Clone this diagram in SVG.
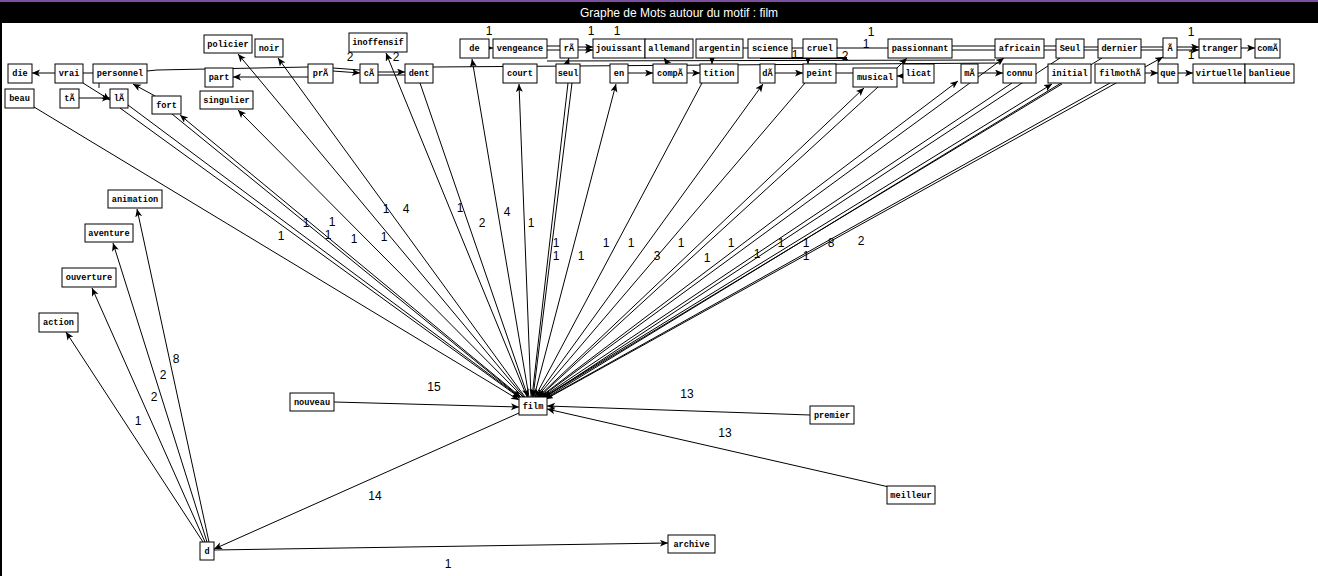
<svg xmlns="http://www.w3.org/2000/svg" width="1318" height="576" viewBox="0 0 1318 576">
<defs>
<marker id="ar" markerUnits="userSpaceOnUse" markerWidth="9" markerHeight="8" refX="8" refY="3.5" orient="auto">
<path d="M0,0 L8,3.5 L0,7 L2,3.5 z" fill="#000"/>
</marker>
<style>
.n rect{fill:#fff;stroke:#000;stroke-width:1}
.n text{font-family:"Liberation Mono","DejaVu Sans Mono",monospace;font-weight:bold;font-size:8.6px;fill:#000;text-anchor:middle}
#edges path{fill:none;stroke:#000;stroke-width:1}
#edges path.a{marker-end:url(#ar)}
#labels text{font-family:"Liberation Sans",Arial,sans-serif;font-size:12px;fill:#000;text-anchor:middle}
</style>
</defs>
<rect x="0" y="0" width="1318" height="576" fill="#fff"/>
<rect x="0" y="0" width="1318" height="23" fill="#000"/>
<rect x="0" y="0" width="1318" height="2" fill="#7d4f9e"/>
<rect x="0" y="23" width="2" height="553" fill="#000"/>
<text x="679" y="17" font-family="Liberation Sans,Arial,sans-serif" font-size="12" fill="#fff" text-anchor="middle">Graphe de Mots autour du motif : film</text>

<g id="edges">
<path class="a" d="M34,107 L519,400"/>
<path class="a" d="M120,108 L520,398"/>
<path class="a" d="M128,105 L521,398"/>
<path class="a" d="M172,114 L521,398"/>
<path class="a" d="M420,83 L528,397"/>
<path class="a" d="M568,83 L532,397"/>
<path class="a" d="M572,83 L533,397"/>
<path class="a" d="M702,83 L535,397"/>
<path class="a" d="M805,83 L537,397"/>
<path class="a" d="M878,87 L539,397"/>
<path class="a" d="M1012,83 L541,398"/>
<path class="a" d="M1062,84 L543,398"/>
<path class="a" d="M1060,58 L544,398"/>
<path class="a" d="M1102,58 L544,399"/>
<path class="a" d="M1110,83 L545,399"/>
<path class="a" d="M522,398 L180,115"/>
<path class="a" d="M523,397 L238,110"/>
<path class="a" d="M524,397 L238,54"/>
<path class="a" d="M525,397 L278,58"/>
<path class="a" d="M527,397 L386,53"/>
<path class="a" d="M529,397 L472,59"/>
<path class="a" d="M531,397 L519,84"/>
<path class="a" d="M534,397 L616,84"/>
<path class="a" d="M536,397 L763,84"/>
<path class="a" d="M538,397 L864,88"/>
<path class="a" d="M540,397 L958,81"/>
<path class="a" d="M541,397 L1004,58"/>
<path class="a" d="M542,398 L1052,84"/>
<path class="a" d="M546,399 L1163,57"/>
<path class="a" d="M334,402 L519,407"/>
<path class="a" d="M810,415 L547,406"/>
<path class="a" d="M889,487 L547,409"/>
<path class="a" d="M519,413 L214,549"/>
<path class="a" d="M214,550 L668,543"/>
<path class="a" d="M203,542 L66,332"/>
<path class="a" d="M205,542 L92,288"/>
<path class="a" d="M207,542 L113,243"/>
<path class="a" d="M209,542 L137,209"/>
<path class="a" d="M55,73 L32,73"/>
<path d="M83,73 L93,73"/>
<path class="a" d="M83,83 L110,100"/>
<path class="a" d="M79,98 L110,98"/>
<path class="a" d="M155,96 L133,84"/>
<path d="M99,83 L99,88"/>
<path d="M147,71 L157,70 L308,67"/>
<path class="a" d="M308,77 L233,77"/>
<path d="M333,68 L360,70"/>
<path class="a" d="M333,71 L360,73"/>
<path class="a" d="M378,72 L405,72"/>
<path d="M378,75 L405,75"/>
<path d="M433,67 L1000,63"/>
<path d="M547,61 L995,60"/>
<path d="M760,58 L847,58" style="stroke-width:2"/>
<path class="a" d="M486,48 L493,48"/>
<path d="M547,46 L560,46 M547,50 L560,50"/>
<path class="a" d="M578,47 L593,47"/>
<path class="a" d="M578,50 L593,50"/>
<path class="a" d="M567,64 L569,58"/>
<path class="a" d="M668,64 L664,58"/>
<path d="M743,48 L748,48"/>
<path d="M792,48 L803,48"/>
<path d="M837,48 L888,48"/>
<path d="M952,46 L995,46 M952,50 L995,50"/>
<path d="M1044,46 L1056,46 M1044,50 L1056,50"/>
<path d="M1084,47 L1098,47 M1084,50 L1098,50"/>
<path d="M1141,47 L1163,47 M1141,50 L1163,50"/>
<path class="a" d="M1177,47 L1199,47"/>
<path class="a" d="M1177,50 L1199,50"/>
<path class="a" d="M1241,48 L1255,48"/>
<path class="a" d="M712,59 L712,64"/>
<path class="a" d="M808,59 L808,64"/>
<path class="a" d="M897,68 L907,58"/>
<path class="a" d="M628,73 L653,73"/>
<path class="a" d="M687,73 L700,73"/>
<path class="a" d="M775,73 L803,73"/>
<path d="M836,73 L853,73"/>
<path class="a" d="M903,76 L897,76"/>
<path class="a" d="M978,73 L1003,73"/>
<path class="a" d="M1145,73 L1158,73"/>
<path class="a" d="M1178,73 L1193,73"/>
</g>

<g id="labels">
<text x="489" y="35">1</text><text x="591" y="35">1</text><text x="617" y="35">1</text>
<text x="871" y="36">1</text><text x="866" y="48">1</text><text x="795" y="59">1</text><text x="845" y="60">2</text>
<text x="1191" y="36">1</text><text x="1191" y="59">1</text>
<text x="350" y="61">2</text><text x="396" y="61">2</text>
<text x="281" y="240">1</text><text x="306" y="227">1</text><text x="332" y="226">1</text><text x="328" y="239">1</text>
<text x="354" y="243">1</text><text x="384" y="241">1</text><text x="386" y="213">1</text><text x="406" y="213">4</text>
<text x="460" y="212">1</text><text x="482" y="227">2</text><text x="507" y="216">4</text><text x="531" y="227">1</text>
<text x="556" y="247">1</text><text x="556" y="260">1</text><text x="581" y="260">1</text><text x="606" y="247">1</text>
<text x="631" y="247">1</text><text x="657" y="260">3</text><text x="681" y="247">1</text><text x="707" y="262">1</text>
<text x="731" y="247">1</text><text x="757" y="258">1</text><text x="781" y="247">1</text><text x="806" y="247">1</text>
<text x="831" y="247">8</text><text x="861" y="245">2</text><text x="806" y="260">1</text>
<text x="434" y="391">15</text><text x="687" y="398">13</text><text x="725" y="437">13</text><text x="375" y="500">14</text>
<text x="448" y="568">1</text><text x="138" y="425">1</text><text x="154" y="401">2</text><text x="163" y="379">2</text><text x="176" y="363">8</text>
</g>

<g id="n-policier" class="n"><rect x="204" y="35" width="48" height="18"/><text x="228" y="47">policier</text></g>
<g id="n-noir" class="n"><rect x="255" y="39" width="28" height="18"/><text x="269" y="51">noir</text></g>
<g id="n-inoffensif" class="n"><rect x="349" y="33" width="58" height="19"/><text x="378" y="45">inoffensif</text></g>
<g id="n-de" class="n"><rect x="460" y="39" width="29" height="19"/><text x="474.5" y="51">de</text></g>
<g id="n-vengeance" class="n"><rect x="493" y="39" width="54" height="19"/><text x="520" y="51">vengeance</text></g>
<g id="n-rA" class="n"><rect x="560" y="39" width="18" height="19"/><text x="569" y="51">rÃ</text></g>
<g id="n-jouissant" class="n"><rect x="593" y="39" width="52" height="19"/><text x="619" y="51">jouissant</text></g>
<g id="n-allemand" class="n"><rect x="645" y="39" width="48" height="19"/><text x="669" y="51">allemand</text></g>
<g id="n-argentin" class="n"><rect x="696" y="39" width="47" height="19"/><text x="719.5" y="51">argentin</text></g>
<g id="n-science" class="n"><rect x="748" y="39" width="44" height="19"/><text x="770" y="51">science</text></g>
<g id="n-cruel" class="n"><rect x="803" y="39" width="34" height="19"/><text x="820" y="51">cruel</text></g>
<g id="n-passionnant" class="n"><rect x="888" y="39" width="64" height="19"/><text x="920" y="51">passionnant</text></g>
<g id="n-africain" class="n"><rect x="995" y="39" width="49" height="19"/><text x="1019.5" y="51">africain</text></g>
<g id="n-Seul" class="n"><rect x="1056" y="39" width="28" height="19"/><text x="1070" y="51">Seul</text></g>
<g id="n-dernier" class="n"><rect x="1098" y="39" width="43" height="19"/><text x="1119.5" y="51">dernier</text></g>
<g id="n-A" class="n"><rect x="1163" y="38" width="14" height="20"/><text x="1170" y="51">Ã</text></g>
<g id="n-tranger" class="n"><rect x="1199" y="39" width="42" height="19"/><text x="1220" y="51">tranger</text></g>
<g id="n-comA" class="n"><rect x="1255" y="39" width="25" height="19"/><text x="1267.5" y="51">comÃ</text></g>

<g id="n-die" class="n"><rect x="8" y="64" width="24" height="19"/><text x="20" y="76">die</text></g>
<g id="n-vrai" class="n"><rect x="55" y="64" width="28" height="19"/><text x="69" y="76">vrai</text></g>
<g id="n-personnel" class="n"><rect x="93" y="64" width="54" height="19"/><text x="120" y="76">personnel</text></g>
<g id="n-part" class="n"><rect x="205" y="68" width="28" height="19"/><text x="219" y="80">part</text></g>
<g id="n-prA" class="n"><rect x="308" y="64" width="25" height="19"/><text x="320.5" y="76">prÃ</text></g>
<g id="n-cA" class="n"><rect x="360" y="64" width="18" height="19"/><text x="369" y="76">cÃ</text></g>
<g id="n-dent" class="n"><rect x="405" y="64" width="28" height="19"/><text x="419" y="76">dent</text></g>
<g id="n-court" class="n"><rect x="503" y="64" width="34" height="19"/><text x="520" y="76">court</text></g>
<g id="n-seul" class="n"><rect x="556" y="64" width="24" height="19"/><text x="568" y="76">seul</text></g>
<g id="n-en" class="n"><rect x="610" y="64" width="18" height="19"/><text x="619" y="76">en</text></g>
<g id="n-compA" class="n"><rect x="653" y="64" width="34" height="19"/><text x="670" y="76">compÃ</text></g>
<g id="n-tition" class="n"><rect x="700" y="64" width="38" height="19"/><text x="719" y="76">tition</text></g>
<g id="n-dA" class="n"><rect x="760" y="64" width="15" height="19"/><text x="767.5" y="76">dÃ</text></g>
<g id="n-peint" class="n"><rect x="803" y="64" width="33" height="19"/><text x="819.5" y="76">peint</text></g>
<g id="n-musical" class="n"><rect x="853" y="68" width="44" height="19"/><text x="875" y="80">musical</text></g>
<g id="n-licat" class="n"><rect x="903" y="64" width="31" height="19"/><text x="918.5" y="76">licat</text></g>
<g id="n-mA" class="n"><rect x="961" y="64" width="17" height="19"/><text x="969.5" y="76">mÃ</text></g>
<g id="n-connu" class="n"><rect x="1003" y="64" width="33" height="19"/><text x="1019.5" y="76">connu</text></g>
<g id="n-initial" class="n"><rect x="1048" y="64" width="43" height="19"/><text x="1069.5" y="76">initial</text></g>
<g id="n-filmothA" class="n"><rect x="1095" y="64" width="50" height="19"/><text x="1120" y="76">filmothÃ</text></g>
<g id="n-que" class="n"><rect x="1158" y="64" width="20" height="19"/><text x="1168" y="76">que</text></g>
<g id="n-virtuelle" class="n"><rect x="1193" y="64" width="52" height="19"/><text x="1219" y="76">virtuelle</text></g>
<g id="n-banlieue" class="n"><rect x="1245" y="64" width="49" height="19"/><text x="1269.5" y="76">banlieue</text></g>

<g id="n-beau" class="n"><rect x="5" y="89" width="29" height="19"/><text x="19.5" y="101">beau</text></g>
<g id="n-tA" class="n"><rect x="60" y="89" width="19" height="19"/><text x="69.5" y="101">tÃ</text></g>
<g id="n-lA" class="n"><rect x="110" y="89" width="18" height="19"/><text x="119" y="101">lÃ</text></g>
<g id="n-fort" class="n"><rect x="152" y="96" width="29" height="18"/><text x="166.5" y="108">fort</text></g>
<g id="n-singulier" class="n"><rect x="200" y="91" width="53" height="18"/><text x="226.5" y="103">singulier</text></g>

<g id="n-animation" class="n"><rect x="108" y="190" width="54" height="18"/><text x="135" y="202">animation</text></g>
<g id="n-aventure" class="n"><rect x="85" y="224" width="48" height="18"/><text x="109" y="236">aventure</text></g>
<g id="n-ouverture" class="n"><rect x="62" y="268" width="54" height="19"/><text x="89" y="280">ouverture</text></g>
<g id="n-action" class="n"><rect x="39" y="313" width="39" height="19"/><text x="58.5" y="325">action</text></g>

<g id="n-nouveau" class="n"><rect x="290" y="393" width="44" height="18"/><text x="312" y="405">nouveau</text></g>
<g id="n-film" class="n"><rect x="519" y="397" width="28" height="18"/><text x="533" y="409">film</text></g>
<g id="n-premier" class="n"><rect x="810" y="406" width="44" height="18"/><text x="832" y="418">premier</text></g>
<g id="n-meilleur" class="n"><rect x="887" y="486" width="48" height="18"/><text x="911" y="498">meilleur</text></g>
<g id="n-d" class="n"><rect x="200" y="542" width="14" height="18"/><text x="207" y="554">d</text></g>
<g id="n-archive" class="n"><rect x="668" y="535" width="47" height="18"/><text x="691.5" y="547">archive</text></g>
</svg>
